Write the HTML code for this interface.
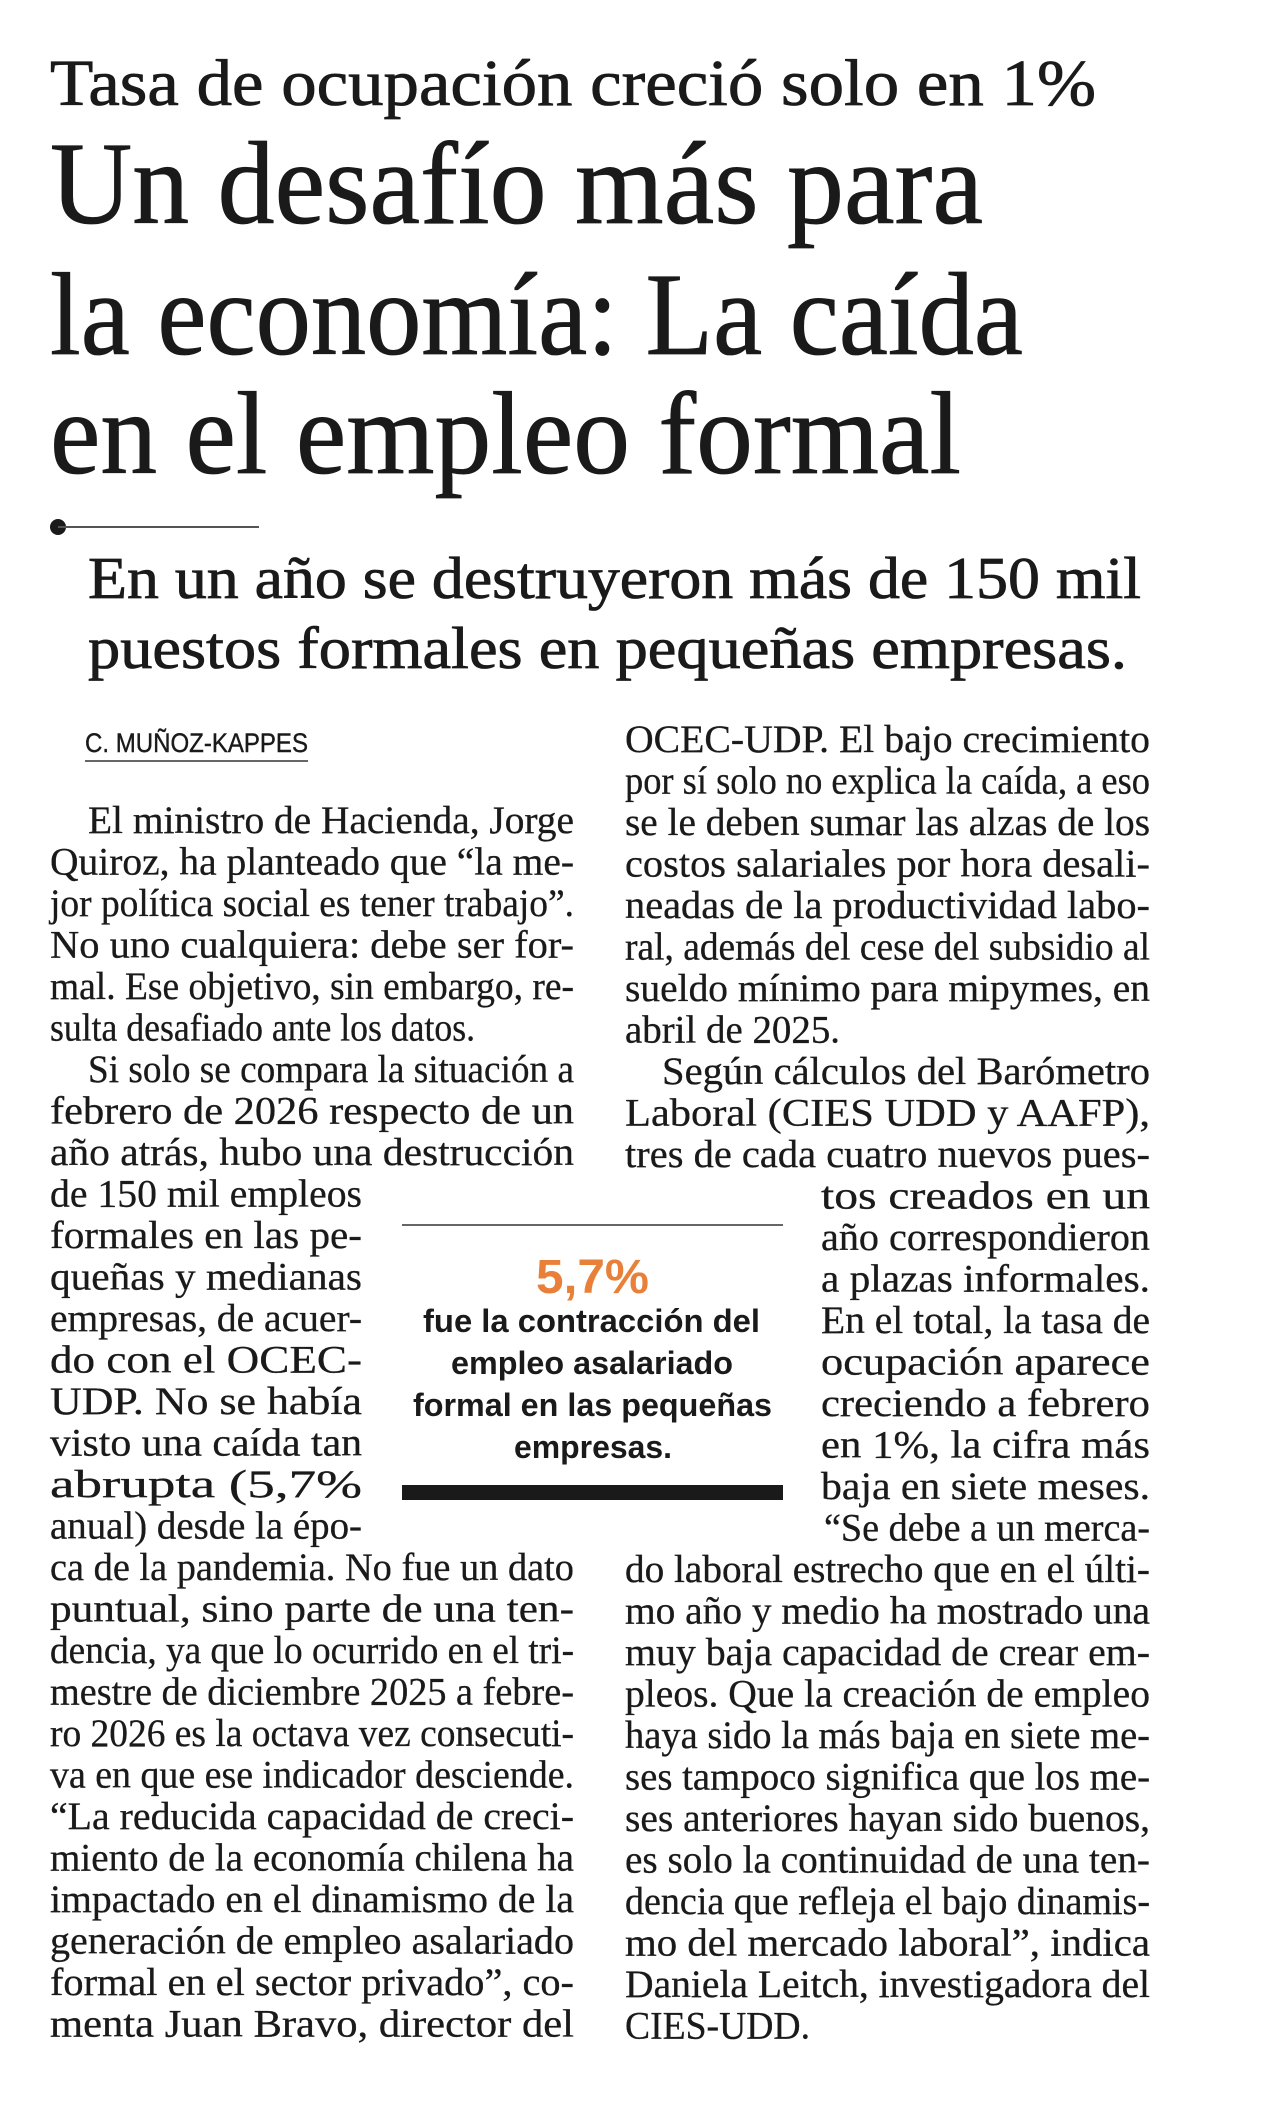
<!DOCTYPE html>
<html><head><meta charset="utf-8"><style>
html,body{margin:0;padding:0;background:#fff;}
svg{display:block;}
.s{font-family:"Liberation Serif",serif;fill:#1a1a1a;}
.b{font-size:39px;stroke:#1a1a1a;stroke-width:0.3px;}
.h{stroke:#1a1a1a;stroke-width:0.8px;}
.q{font-family:"Liberation Sans",sans-serif;font-weight:bold;fill:#1a1a1a;font-size:32px;}
</style></head><body>
<svg width="1269" height="2120" viewBox="0 0 1269 2120" xmlns="http://www.w3.org/2000/svg">
<rect width="1269" height="2120" fill="#fff"/>
<text class="s h" x="50" y="105" font-size="66" textLength="1046" lengthAdjust="spacingAndGlyphs">Tasa de ocupación creció solo en 1%</text>
<text class="s h" x="50" y="223" font-size="118" textLength="933" lengthAdjust="spacingAndGlyphs">Un desafío más para</text>
<text class="s h" x="50" y="354" font-size="118" textLength="973" lengthAdjust="spacingAndGlyphs">la economía: La caída</text>
<text class="s h" x="50" y="473" font-size="118" textLength="911" lengthAdjust="spacingAndGlyphs">en el empleo formal</text>
<circle cx="58" cy="527" r="8" fill="#1a1a1a"/>
<line x1="58" y1="527" x2="259" y2="527" stroke="#555" stroke-width="2"/>
<text class="s h" x="88" y="598" font-size="59" textLength="1053" lengthAdjust="spacingAndGlyphs">En un año se destruyeron más de 150 mil</text>
<text class="s h" x="88" y="668" font-size="59" textLength="1039" lengthAdjust="spacingAndGlyphs">puestos formales en pequeñas empresas.</text>
<text x="85" y="752" font-family="Liberation Sans,sans-serif" font-size="27" fill="#1a1a1a" stroke="#1a1a1a" stroke-width="0.4" textLength="223" lengthAdjust="spacingAndGlyphs">C. MUÑOZ-KAPPES</text>
<line x1="85" y1="761" x2="308" y2="761" stroke="#333" stroke-width="1.5"/>

<g class="s b">
<text x="88" y="833" textLength="486" lengthAdjust="spacingAndGlyphs">El ministro de Hacienda, Jorge</text>
<text x="50" y="874.5" textLength="524" lengthAdjust="spacingAndGlyphs">Quiroz, ha planteado que “la me-</text>
<text x="50" y="916" textLength="524" lengthAdjust="spacingAndGlyphs">jor política social es tener trabajo”.</text>
<text x="50" y="957.5" textLength="524" lengthAdjust="spacingAndGlyphs">No uno cualquiera: debe ser for-</text>
<text x="50" y="999" textLength="524" lengthAdjust="spacingAndGlyphs">mal. Ese objetivo, sin embargo, re-</text>
<text x="50" y="1040.5" textLength="425" lengthAdjust="spacingAndGlyphs">sulta desafiado ante los datos.</text>
<text x="88" y="1082" textLength="486" lengthAdjust="spacingAndGlyphs">Si solo se compara la situación a</text>
<text x="50" y="1123.5" textLength="524" lengthAdjust="spacingAndGlyphs">febrero de 2026 respecto de un</text>
<text x="50" y="1165" textLength="524" lengthAdjust="spacingAndGlyphs">año atrás, hubo una destrucción</text>
<text x="50" y="1206.5" textLength="312" lengthAdjust="spacingAndGlyphs">de 150 mil empleos</text>
<text x="50" y="1248" textLength="312" lengthAdjust="spacingAndGlyphs">formales en las pe-</text>
<text x="50" y="1289.5" textLength="312" lengthAdjust="spacingAndGlyphs">queñas y medianas</text>
<text x="50" y="1331" textLength="312" lengthAdjust="spacingAndGlyphs">empresas, de acuer-</text>
<text x="50" y="1372.5" textLength="312" lengthAdjust="spacingAndGlyphs">do con el OCEC-</text>
<text x="50" y="1414" textLength="312" lengthAdjust="spacingAndGlyphs">UDP. No se había</text>
<text x="50" y="1455.5" textLength="312" lengthAdjust="spacingAndGlyphs">visto una caída tan</text>
<text x="50" y="1497" textLength="312" lengthAdjust="spacingAndGlyphs">abrupta (5,7%</text>
<text x="50" y="1538.5" textLength="312" lengthAdjust="spacingAndGlyphs">anual) desde la épo-</text>
<text x="50" y="1580" textLength="524" lengthAdjust="spacingAndGlyphs">ca de la pandemia. No fue un dato</text>
<text x="50" y="1621.5" textLength="524" lengthAdjust="spacingAndGlyphs">puntual, sino parte de una ten-</text>
<text x="50" y="1663" textLength="524" lengthAdjust="spacingAndGlyphs">dencia, ya que lo ocurrido en el tri-</text>
<text x="50" y="1704.5" textLength="524" lengthAdjust="spacingAndGlyphs">mestre de diciembre 2025 a febre-</text>
<text x="50" y="1746" textLength="524" lengthAdjust="spacingAndGlyphs">ro 2026 es la octava vez consecuti-</text>
<text x="50" y="1787.5" textLength="524" lengthAdjust="spacingAndGlyphs">va en que ese indicador desciende.</text>
<text x="50" y="1829" textLength="524" lengthAdjust="spacingAndGlyphs">“La reducida capacidad de creci-</text>
<text x="50" y="1870.5" textLength="524" lengthAdjust="spacingAndGlyphs">miento de la economía chilena ha</text>
<text x="50" y="1912" textLength="524" lengthAdjust="spacingAndGlyphs">impactado en el dinamismo de la</text>
<text x="50" y="1953.5" textLength="524" lengthAdjust="spacingAndGlyphs">generación de empleo asalariado</text>
<text x="50" y="1995" textLength="524" lengthAdjust="spacingAndGlyphs">formal en el sector privado”, co-</text>
<text x="50" y="2036.5" textLength="524" lengthAdjust="spacingAndGlyphs">menta Juan Bravo, director del</text>
</g>

<g class="s b">
<text x="625" y="752" textLength="525" lengthAdjust="spacingAndGlyphs">OCEC-UDP. El bajo crecimiento</text>
<text x="625" y="793.5" textLength="525" lengthAdjust="spacingAndGlyphs">por sí solo no explica la caída, a eso</text>
<text x="625" y="835" textLength="525" lengthAdjust="spacingAndGlyphs">se le deben sumar las alzas de los</text>
<text x="625" y="876.5" textLength="525" lengthAdjust="spacingAndGlyphs">costos salariales por hora desali-</text>
<text x="625" y="918" textLength="525" lengthAdjust="spacingAndGlyphs">neadas de la productividad labo-</text>
<text x="625" y="959.5" textLength="525" lengthAdjust="spacingAndGlyphs">ral, además del cese del subsidio al</text>
<text x="625" y="1001" textLength="525" lengthAdjust="spacingAndGlyphs">sueldo mínimo para mipymes, en</text>
<text x="625" y="1042.5" textLength="215" lengthAdjust="spacingAndGlyphs">abril de 2025.</text>
<text x="662" y="1084" textLength="488" lengthAdjust="spacingAndGlyphs">Según cálculos del Barómetro</text>
<text x="625" y="1125.5" textLength="525" lengthAdjust="spacingAndGlyphs">Laboral (CIES UDD y AAFP),</text>
<text x="625" y="1167" textLength="525" lengthAdjust="spacingAndGlyphs">tres de cada cuatro nuevos pues-</text>
<text x="821" y="1208.5" textLength="329" lengthAdjust="spacingAndGlyphs">tos creados en un</text>
<text x="821" y="1250" textLength="329" lengthAdjust="spacingAndGlyphs">año correspondieron</text>
<text x="821" y="1291.5" textLength="329" lengthAdjust="spacingAndGlyphs">a plazas informales.</text>
<text x="821" y="1333" textLength="329" lengthAdjust="spacingAndGlyphs">En el total, la tasa de</text>
<text x="821" y="1374.5" textLength="329" lengthAdjust="spacingAndGlyphs">ocupación aparece</text>
<text x="821" y="1416" textLength="329" lengthAdjust="spacingAndGlyphs">creciendo a febrero</text>
<text x="821" y="1457.5" textLength="329" lengthAdjust="spacingAndGlyphs">en 1%, la cifra más</text>
<text x="821" y="1499" textLength="329" lengthAdjust="spacingAndGlyphs">baja en siete meses.</text>
<text x="824" y="1540.5" textLength="326" lengthAdjust="spacingAndGlyphs">“Se debe a un merca-</text>
<text x="625" y="1582" textLength="525" lengthAdjust="spacingAndGlyphs">do laboral estrecho que en el últi-</text>
<text x="625" y="1623.5" textLength="525" lengthAdjust="spacingAndGlyphs">mo año y medio ha mostrado una</text>
<text x="625" y="1665" textLength="525" lengthAdjust="spacingAndGlyphs">muy baja capacidad de crear em-</text>
<text x="625" y="1706.5" textLength="525" lengthAdjust="spacingAndGlyphs">pleos. Que la creación de empleo</text>
<text x="625" y="1748" textLength="525" lengthAdjust="spacingAndGlyphs">haya sido la más baja en siete me-</text>
<text x="625" y="1789.5" textLength="525" lengthAdjust="spacingAndGlyphs">ses tampoco significa que los me-</text>
<text x="625" y="1831" textLength="525" lengthAdjust="spacingAndGlyphs">ses anteriores hayan sido buenos,</text>
<text x="625" y="1872.5" textLength="525" lengthAdjust="spacingAndGlyphs">es solo la continuidad de una ten-</text>
<text x="625" y="1914" textLength="525" lengthAdjust="spacingAndGlyphs">dencia que refleja el bajo dinamis-</text>
<text x="625" y="1955.5" textLength="525" lengthAdjust="spacingAndGlyphs">mo del mercado laboral”, indica</text>
<text x="625" y="1997" textLength="525" lengthAdjust="spacingAndGlyphs">Daniela Leitch, investigadora del</text>
<text x="625" y="2038.5" textLength="185" lengthAdjust="spacingAndGlyphs">CIES-UDD.</text>
</g>

<line x1="402" y1="1225" x2="783" y2="1225" stroke="#333" stroke-width="1.5"/>
<text x="536" y="1293" font-family="Liberation Sans,sans-serif" font-weight="bold" font-size="48" fill="#e9803a" textLength="113" lengthAdjust="spacingAndGlyphs">5,7%</text>
<text class="q" x="423" y="1332" textLength="337" lengthAdjust="spacingAndGlyphs">fue la contracción del</text>
<text class="q" x="451" y="1374" textLength="282" lengthAdjust="spacingAndGlyphs">empleo asalariado</text>
<text class="q" x="413" y="1416" textLength="359" lengthAdjust="spacingAndGlyphs">formal en las pequeñas</text>
<text class="q" x="514" y="1458" textLength="158" lengthAdjust="spacingAndGlyphs">empresas.</text>
<rect x="402" y="1485" width="381" height="15" fill="#1a1a1a"/>
</svg>
</body></html>
